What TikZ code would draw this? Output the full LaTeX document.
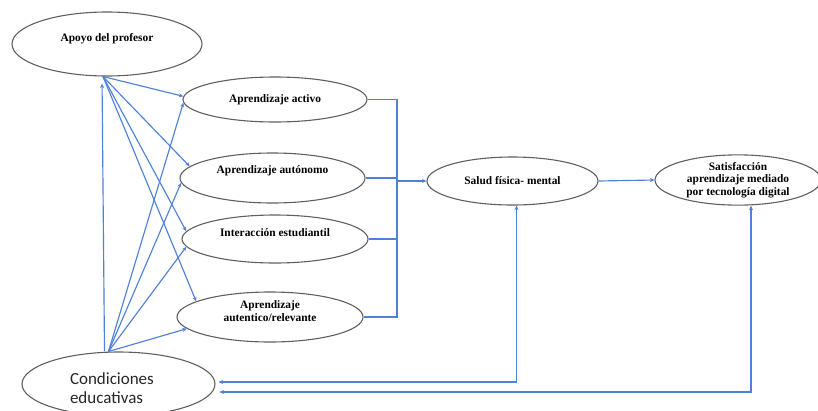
\documentclass[tikz,border=0pt]{standalone}
\usepackage{fontspec}
\setmainfont{Liberation Serif}
\newfontfamily\calibri{Carlito}
\usetikzlibrary{shapes.geometric,arrows.meta}
\definecolor{linkblue}{HTML}{4F81D9}
\definecolor{rimgray}{HTML}{5F5F5F}

\begin{document}
\begin{tikzpicture}[
            x=1pt, y=-1pt,
            construct/.style={ellipse, draw=rimgray, line width=1.1pt, inner sep=0pt, align=center, font=\bfseries\fontsize{11.4}{12.5}\selectfont},
            wire/.style={draw=linkblue, line width=1.15pt},
            arrow/.style={wire, -{Stealth[length=4.5pt,width=4pt]}},
            twoway/.style={wire, {Stealth[length=4.5pt,width=4pt]}-{Stealth[length=4.5pt,width=4pt]}},
            lift/.style={text height=8pt, text depth=#1}
        ]
            \useasboundingbox (0,0) rectangle (818,410);

            % constructs
            \node[construct, minimum width=190pt, minimum height=64pt, lift=13pt] (apoyo) at (107,44) {Apoyo del profesor};
            \node[construct, minimum width=184pt, minimum height=45pt] (activo) at (275,99.5) {Aprendizaje activo};
            \node[construct, minimum width=185pt, minimum height=50pt, lift=17pt] (autonomo) at (272.5,178) {Aprendizaje autónomo};
            \node[construct, minimum width=186pt, minimum height=48pt, lift=13pt] (interaccion) at (275,239) {Interacción estudiantil};
            \node[construct, minimum width=186pt, minimum height=50pt, text height=20pt, text depth=12pt] (autentico) at (270,317) {Aprendizaje\\autentico/relevante};
            \node[construct, minimum width=193pt, minimum height=64pt, align=left, text width=97pt, text height=12pt, text depth=12pt, text=black!85, font=\calibri\fontsize{17}{19}\selectfont] (condiciones) at (118.5,384) {Condiciones\\educativas};
            \node[construct, minimum width=171pt, minimum height=48pt] (salud) at (512.5,181) {Salud física- mental};
            \node[construct, minimum width=166pt, minimum height=48pt] (satisf) at (738,180) {Satisfacción\\aprendizaje mediado\\por tecnología digital};

            % paths from the two antecedents
            \draw[arrow] ([xshift=-4pt]apoyo.south) -- (activo.178);
            \draw[arrow] ([xshift=-4pt]apoyo.south) -- (autonomo.172);
            \draw[arrow] ([xshift=-4pt]apoyo.south) -- (interaccion.175);
            \draw[arrow] ([xshift=-4pt]apoyo.south) -- (autentico.168);
            \draw[arrow] ([xshift=-10pt]condiciones.north) -- (activo.182);
            \draw[arrow] ([xshift=-10pt]condiciones.north) -- (autonomo.183);
            \draw[arrow] ([xshift=-10pt]condiciones.north) -- (interaccion.185.5);
            \draw[arrow] ([xshift=-10pt]condiciones.north) -- (autentico.188);
            \draw[arrow, shorten >=7pt] ([xshift=-14pt]condiciones.north) -- ([xshift=-5pt]apoyo.south);

            % bracket into salud
            \coordinate (bus) at (397,181);
            \draw[wire] (activo.east) -| (bus |- autentico.east) -- (autentico.east);
            \draw[wire] (autonomo.east) -- (autonomo.east -| bus);
            \draw[wire] (interaccion.east) -- (interaccion.east -| bus);
            \draw[arrow] (bus) -- (salud.west);
            \draw[arrow] (salud.east) -- (satisf.west);

            % feedback to condiciones
            \draw[twoway] ([xshift=4pt]salud.south) |- ([xshift=3pt,yshift=2pt]condiciones.east);
            \draw[twoway] ([xshift=13pt]satisf.south) |- ([xshift=4pt,yshift=-8pt]condiciones.east);
        \end{tikzpicture}
\end{document}
